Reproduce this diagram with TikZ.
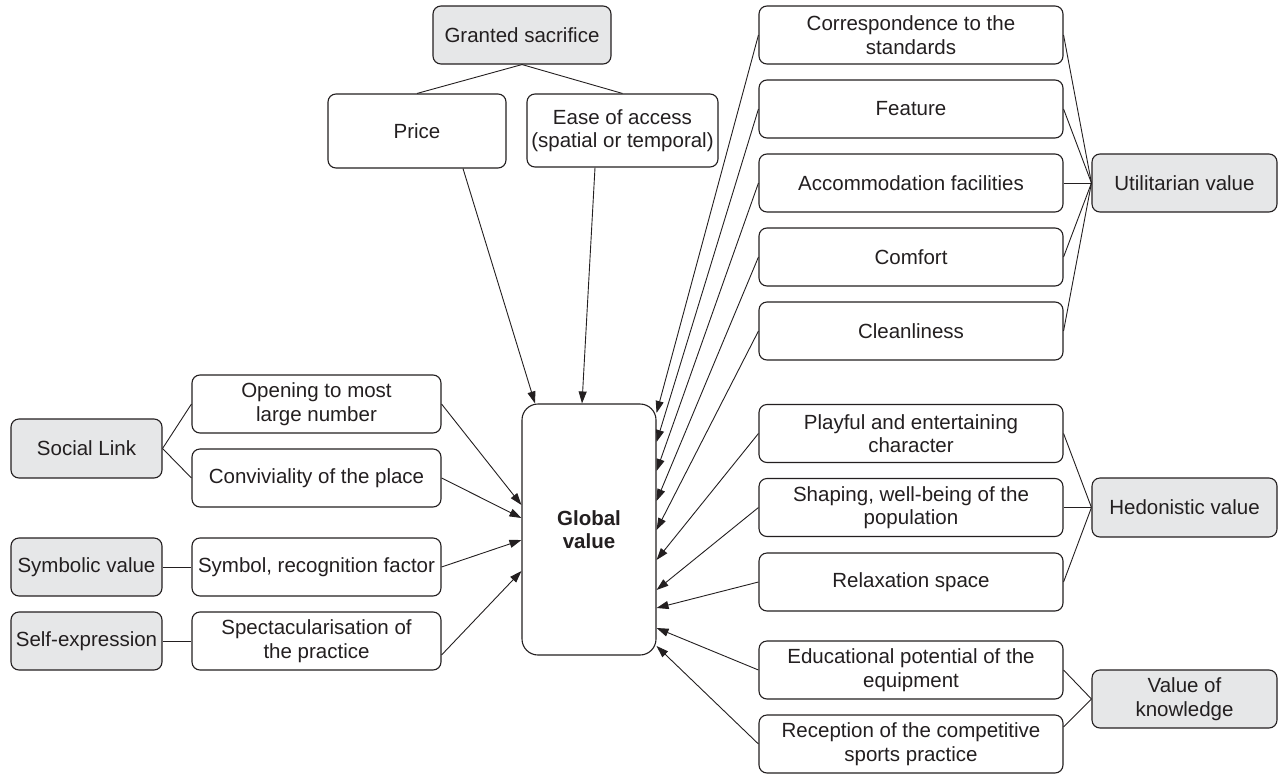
\documentclass[tikz,border=0pt]{standalone}
\usepackage{fontspec}
\setmainfont{Liberation Sans}
\usetikzlibrary{arrows.meta}
\definecolor{ink}{HTML}{231F20}
\definecolor{keyfill}{HTML}{E6E7E8}
\begin{document}
\begin{tikzpicture}[x=1pt,y=-1pt,
  box/.style={draw=ink, line width=1.1pt, rounded corners=8pt, fill=white,
    text=ink, align=center, inner sep=0pt,
    minimum width=304pt, minimum height=58pt,
    font=\fontsize{20.5}{23.5}\selectfont},
  keybox/.style={box, fill=keyfill},
  side/.style={minimum width=249pt},
  small/.style={minimum width=151pt},
  val/.style={minimum width=185pt},
  link/.style={draw=ink, line width=0.9pt},
  feed/.style={link, -{Triangle[length=12pt,width=8pt]}},
]
\useasboundingbox (0,0) rectangle (1278,774);

% centre: the overall value
\node[box, minimum width=134pt, minimum height=251pt, rounded corners=16pt,
      font=\fontsize{20.5}{23.5}\selectfont\bfseries] (glob) at (589,529.5) {Global\\value};

% sacrifice branch (top)
\node[keybox, minimum width=178pt] (gs) at (522,35) {Granted sacrifice};
\node[box, minimum width=178pt, minimum height=74pt] (price) at (417,131) {Price};
\node[box, minimum width=191pt, minimum height=73pt] (ease) at (622.5,130.5) {Ease of access\\(spatial or temporal)};

% left branches
\node[keybox, small, minimum height=59pt] (social) at (86.5,448.5) {Social Link};
\node[box, side] (open) at (316.5,404) {Opening to most\\large number};
\node[box, side] (conv) at (316.5,478) {Conviviality of the place};
\node[keybox, small] (symv) at (86.5,567) {Symbolic value};
\node[box, side] (symb) at (316.5,567) {Symbol, recognition factor};
\node[keybox, small] (self) at (86.5,641) {Self-expression};
\node[box, side] (spec) at (316.5,641) {Spectacularisation of\\the practice};

% right branches
\node[box] (corr)  at (911,35)    {Correspondence to the\\standards};
\node[box] (feat)  at (911,109)   {Feature};
\node[box] (acc)   at (911,183)   {Accommodation facilities};
\node[box] (comf)  at (911,257)   {Comfort};
\node[box] (clean) at (911,331)   {Cleanliness};
\node[box] (play)  at (911,433.5) {Playful and entertaining\\character};
\node[box] (shap)  at (911,507.5) {Shaping, well-being of the\\population};
\node[box] (relax) at (911,582)   {Relaxation space};
\node[box] (edu)   at (911,670)   {Educational potential of the\\equipment};
\node[box] (rec)   at (911,744)   {Reception of the competitive\\sports practice};

\node[keybox, val] (util) at (1184.5,183)   {Utilitarian value};
\node[keybox, val, minimum height=59pt] (hedo) at (1184.5,507.5) {Hedonistic value};
\node[keybox, val] (know) at (1184.5,699)   {Value of\\knowledge};

% links from the categories to their items
\draw[link] (gs.south) -- (price.north);
\draw[link] (gs.south) -- (ease.north);
\draw[link] (social.east) -- (open.west);
\draw[link] (social.east) -- (conv.west);
\draw[link] (symv.east) -- (symb.west);
\draw[link] (self.east) -- (spec.west);
\foreach \n in {corr,feat,acc,comf,clean}
  \draw[link] (util.west) -- (\n.east);
\foreach \n in {play,shap,relax}
  \draw[link] (hedo.west) -- (\n.east);
\draw[link] (know.west) -- (edu.east);
\draw[link] (know.west) -- (rec.east |- 0,727);

% arrows into the overall value
\draw[feed] ([xshift=46pt]price.south) -- (glob.north -| 535,0);
\draw[feed] ([xshift=-27.5pt]ease.south) -- (glob.north -| 582,0);
\draw[feed] (open.east) -- (glob.west |- 0,505);
\draw[feed] (conv.east) -- (glob.west |- 0,518);
\draw[feed] (symb.east) -- (glob.west |- 0,540);
\draw[feed] (spec.east |- 0,655) -- (glob.west |- 0,571);
\foreach \n/\y in {corr/413,feat/442,acc/471,comf/501,clean/530,
                   play/560,shap/590,relax/608,edu/628,rec/646}
  \draw[feed] (\n.west) -- (glob.east |- 0,\y);
\end{tikzpicture}
\end{document}
